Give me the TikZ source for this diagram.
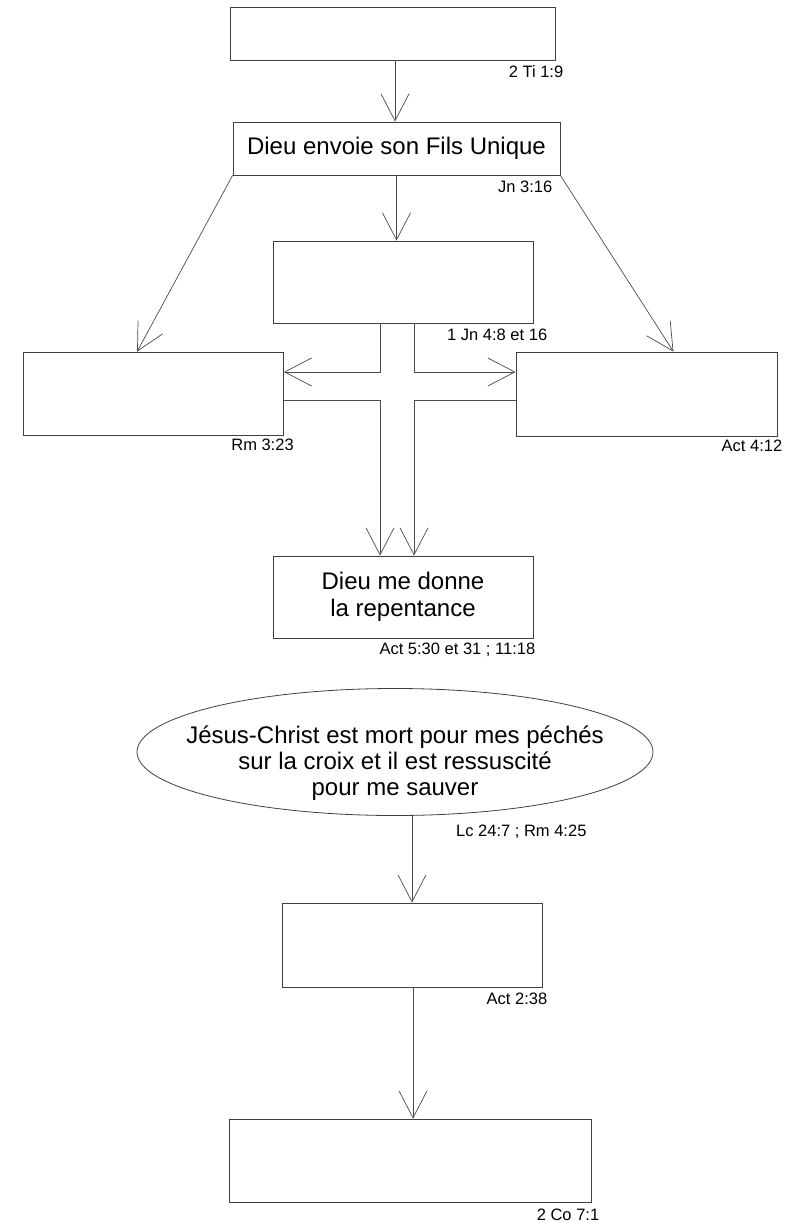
\documentclass[tikz,border=0pt]{standalone}
\usepackage{fontspec}
\setmainfont{Liberation Sans}
\usetikzlibrary{arrows.meta,shapes.geometric}

\tikzset{
    bloc/.style={draw=black!75,line width=0.8pt,rectangle,inner sep=0pt,
        font=\fontsize{24}{26.5}\selectfont,align=center},
    bulle/.style={bloc,ellipse},
    texte/.style={inner sep=0pt,font=\fontsize{24}{26}\selectfont,align=center},
    conn/.style={black!70,line width=0.7pt,-{Straight Barb[length=27pt,width=28pt]}},
    ref/.style={inner sep=0pt,font=\fontsize{16.5}{18}\selectfont}
}

\begin{document}
\begin{tikzpicture}[x=1pt,y=-1pt]
        \path[fill=white,use as bounding box] (0,0) rectangle (801,1222);
        % les cadres
        \node[bloc,minimum width=325pt,minimum height=53pt] (gen) at (392.5,33.5) {};
        \node[bloc,minimum width=327pt,minimum height=53pt] (fils) at (396.5,148.5) {Dieu envoie son Fils Unique};
        \node[bloc,minimum width=260pt,minimum height=82pt] (amour) at (403,282) {};
        \node[bloc,minimum width=260pt,minimum height=83pt] (peche) at (153.5,393.5) {};
        \node[bloc,minimum width=261pt,minimum height=84pt] (salut) at (646.5,394) {};
        \node[bloc,minimum width=260pt,minimum height=82pt] (repent) at (403,597) {Dieu me donne\\la repentance};
        \node[bulle,minimum width=516pt,minimum height=127pt] (croix) at (395,752) {};
        \node[texte] (croixtxt) at ([yshift=-11pt]croix.center) {J\'esus-Christ est mort pour mes p\'ech\'es\\sur la croix et il est ressuscit\'e\\pour me sauver};
        \node[bloc,minimum width=260pt,minimum height=84pt] (bapt) at (412,945) {};
        \node[bloc,minimum width=362pt,minimum height=83pt] (purif) at (410,1160.5) {};
        % les references
        \foreach \b/\dx/\dy/\t in {gen/8/-5/2 Ti 1:9, fils/-8/-5/Jn 3:16, amour/14/-5/1 Jn 4:8 et 16,
            peche/10/-3/Rm 3:23, salut/5/-3/Act 4:12, repent/2/-4/Act 5:30 et 31 ; 11:18,
            bapt/5/-5/Act 2:38, purif/8/-6/2 Co 7:1} {
            \node[ref,anchor=north east] (ref\b) at ([xshift=\dx pt,yshift=\dy pt]\b.south east) {\t};
        }
        \node[ref,anchor=north west] (refcroix) at ([xshift=61pt,yshift=-9pt]croix.south) {Lc 24:7 ; Rm 4:25};
        % la croix
        \coordinate (cxl) at (380,0);
        \coordinate (cxr) at (414,0);
        \coordinate (cyh) at (0,372);
        \coordinate (cyb) at (0,400);
        % les fleches
        \draw[conn] ([xshift=2.5pt]gen.south) -- ([xshift=2.5pt]gen.south |- fils.north);
        \draw[conn] (fils.south) -- (fils.south |- amour.north);
        \draw[conn] (fils.south west) -- ([xshift=114pt]peche.north west);
        \draw[conn] (fils.south east) -- ([xshift=-104pt]salut.north east);
        \draw[conn] (amour.south -| cxl) |- (peche.east |- cyh);
        \draw[conn] (amour.south -| cxr) |- (salut.west |- cyh);
        \draw[conn] (peche.east |- cyb) -| (repent.north -| cxl);
        \draw[conn] (salut.west |- cyb) -| (repent.north -| cxr);
        \draw[conn] (croix.south -| bapt.north) -- (bapt.north);
        \draw[conn] ([xshift=1pt]bapt.south) -- ([xshift=1pt]bapt.south |- purif.north);
\end{tikzpicture}
\end{document}
